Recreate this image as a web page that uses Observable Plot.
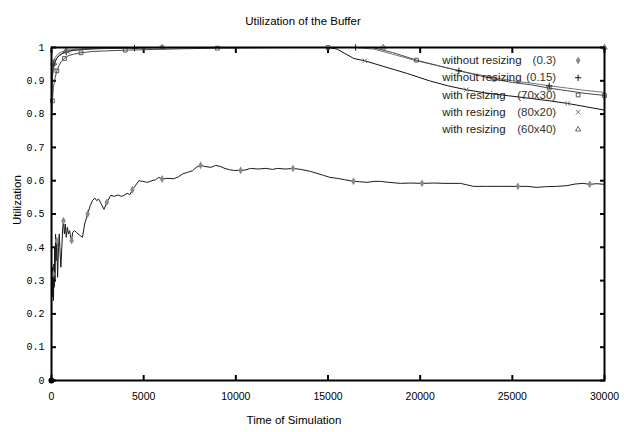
<!DOCTYPE html>
<html><head><meta charset="utf-8">
<script src="https://cdn.jsdelivr.net/npm/d3@7"></script>
<script src="https://cdn.jsdelivr.net/npm/@observablehq/plot@0.6"></script>
<style>body{margin:0;background:#fff;} #chart svg{display:block;}</style>
</head><body><div id="chart"></div>
<script>
const title = "Utilization of the Buffer";
const xLabel = "Time of Simulation";
const yLabel = "Utilization";
const xTicks = [0, 5000, 10000, 15000, 20000, 25000, 30000];
const yTicks = [0, 0.1, 0.2, 0.3, 0.4, 0.5, 0.6, 0.7, 0.8, 0.9, 1];
const legendNames = ["without resizing", "without resizing", "with resizing", "with resizing", "with resizing"];
const legendParams = ["(0.3)", "(0.15)", "(70x30)", "(80x20)", "(60x40)"];

// without resizing (0.3)
const noResize03 = [[0,0],[10,0.30],[30,0.26],[50,0.34],[70,0.25],[90,0.32],[110,0.24],[130,0.35],[150,0.28],[170,0.40],[190,0.30],[220,0.44],[250,0.36],[290,0.42],[330,0.31],[380,0.40],[420,0.44],[470,0.38],[510,0.34],[560,0.40],[610,0.46],[650,0.48],[700,0.44],[750,0.47],[800,0.43],[860,0.46],[920,0.44],[980,0.45],[1040,0.43],[1090,0.42],[1150,0.445],[1250,0.45],[1350,0.445],[1450,0.44],[1560,0.435],[1680,0.43],[1800,0.47],[1960,0.50],[2100,0.525],[2230,0.541],[2350,0.548],[2450,0.54],[2550,0.545],[2680,0.532],[2850,0.514],[3000,0.535],[3220,0.556],[3400,0.553],[3600,0.557],[3800,0.553],[3930,0.556],[4100,0.562],[4250,0.558],[4390,0.573],[4550,0.585],[4740,0.60],[4950,0.598],[5200,0.595],[5450,0.60],[5650,0.603],[5820,0.61],[6000,0.605],[6250,0.607],[6630,0.606],[6900,0.612],[7100,0.62],[7370,0.625],[7650,0.63],[7850,0.64],[8090,0.646],[8300,0.643],[8640,0.64],[8900,0.646],[9150,0.643],[9400,0.637],[9650,0.633],[9880,0.631],[10260,0.631],[10500,0.632],[10800,0.637],[11200,0.635],[11600,0.637],[12000,0.634],[12250,0.637],[12700,0.635],[13100,0.637],[13510,0.634],[14050,0.628],[14400,0.622],[14760,0.616],[15100,0.61],[15500,0.607],[15900,0.603],[16380,0.598],[16700,0.597],[17120,0.595],[17500,0.598],[17840,0.598],[18300,0.595],[18930,0.592],[19500,0.593],[20100,0.592],[20730,0.593],[21300,0.592],[22180,0.592],[22500,0.588],[22900,0.583],[23600,0.583],[24500,0.583],[25300,0.583],[25790,0.583],[26330,0.58],[26800,0.582],[27400,0.583],[27960,0.585],[28400,0.59],[28840,0.592],[29200,0.589],[29580,0.591],[30000,0.589]];

// without resizing (0.15)
const noResize015 = [[10,0.84],[40,0.90],[80,0.93],[130,0.95],[200,0.96],[300,0.97],[420,0.975],[600,0.982],[800,0.986],[1100,0.99],[1500,0.993],[2200,0.995],[3000,0.997],[4500,0.998],[6500,0.999],[9000,1.0],[12000,1.0],[15000,1.0],[16500,1.0],[17500,0.995],[18500,0.98],[19800,0.96],[21000,0.945],[22100,0.93],[23000,0.92],[24000,0.91],[25000,0.90],[26000,0.893],[27000,0.885],[28000,0.878],[29000,0.871],[30000,0.865]];

// with resizing (70x30)
const resize7030 = [[10,0.78],[50,0.84],[100,0.88],[200,0.91],[290,0.93],[400,0.945],[550,0.96],[700,0.967],[900,0.975],[1200,0.98],[1600,0.984],[2200,0.988],[3000,0.99],[4000,0.992],[5500,0.994],[7000,0.996],[9000,0.998],[11000,0.999],[13000,1.0],[15000,1.0],[17400,1.0],[18500,0.985],[19800,0.962],[21000,0.945],[22500,0.925],[24000,0.905],[25000,0.895],[26000,0.888],[27000,0.878],[28000,0.87],[29000,0.862],[30000,0.856]];

// with resizing (80x20)
const resize8020 = [[10,0.86],[40,0.91],[100,0.94],[180,0.955],[280,0.967],[400,0.975],[600,0.983],[850,0.988],[1200,0.992],[1800,0.995],[2500,0.997],[4000,0.999],[6000,1.0],[10000,1.0],[15000,1.0],[15500,0.995],[16400,0.967],[17000,0.96],[18200,0.94],[19300,0.922],[20500,0.90],[21500,0.885],[22500,0.873],[23500,0.864],[24800,0.855],[26000,0.847],[27000,0.84],[28000,0.832],[29000,0.822],[30000,0.812]];

// with resizing (60x40)
const resize6040 = [[10,0.88],[40,0.93],[100,0.955],[200,0.97],[350,0.98],[550,0.987],[800,0.991],[1200,0.994],[2000,0.997],[3500,0.999],[6000,1.0],[9000,1.0],[12000,1.0],[15000,1.0],[18000,1.0],[21000,1.0],[24000,1.0],[27000,1.0],[30000,1.0]];

const series = [
  {data: noResize03, stroke: "#1a1a1a", symbol: "diamond", fill: "#8a8a8a", mstroke: "none", every: 8, off: 5, r: 2.4},
  {data: noResize015, stroke: "#777", symbol: "plus", fill: "none", mstroke: "#111", every: 5, off: 3, r: 2.2},
  {data: resize7030, stroke: "#4a4a4a", symbol: "square2", fill: "none", mstroke: "#555", every: 3, off: 1, r: 2.4},
  {data: resize8020, stroke: "#111", symbol: "times", fill: "none", mstroke: "#777", every: 5, off: 2, r: 2.2},
  {data: resize6040, stroke: "#666", symbol: "triangle2", fill: "none", mstroke: "#666", every: 4, off: 2, r: 2.5}
];

const sans = "'Liberation Sans', Arial, sans-serif";
const mono = "'Liberation Mono', 'DejaVu Sans Mono', monospace";
const X = d => d[0], Y = d => d[1];

const marks = [
  Plot.axisX(xTicks, {anchor: "bottom", tickSize: 0, tickPadding: 12, label: null, tickFormat: d => String(d), fontFamily: sans, fontSize: 10.5}),
  Plot.axisX(xTicks, {anchor: "bottom", tickSize: -5, tickFormat: () => "", label: null, strokeWidth: 2}),
  Plot.axisX(xTicks, {anchor: "top", tickSize: -5, tickFormat: () => "", label: null, strokeWidth: 2}),
  Plot.axisY(yTicks, {anchor: "left", tickSize: 0, tickPadding: 7, label: null, tickFormat: d => d === 0 ? "0" : d === 1 ? "1" : d.toFixed(1), fontFamily: mono, fontSize: 10}),
  Plot.axisY(yTicks, {anchor: "left", tickSize: -5, tickFormat: () => "", label: null, strokeWidth: 2}),
  Plot.axisY(yTicks, {anchor: "right", tickSize: -5, tickFormat: () => "", label: null, strokeWidth: 2})
];
for (const s of series) {
  marks.push(Plot.line(s.data, {x: X, y: Y, stroke: s.stroke, strokeWidth: 1}));
}
for (const s of series) {
  marks.push(Plot.dot(s.data.filter((d, i) => i % s.every === s.off), {x: X, y: Y, symbol: s.symbol, r: s.r, fill: s.fill, stroke: s.mstroke, strokeWidth: 1}));
}
marks.push(Plot.dot([noResize03[0]], {x: X, y: Y, r: 3, fill: "black"}));
marks.push(Plot.frame({stroke: "black", strokeWidth: 2}));
// legend
const legY = (d, i) => 0.961 - i * 0.0518;
marks.push(Plot.text(legendNames, {x: () => 21200, y: legY, text: d => d, textAnchor: "start", fontFamily: sans, fontSize: 11.5, fill: "#222"}));
marks.push(Plot.text(legendParams, {x: () => 27380, y: legY, text: d => d, textAnchor: "end", fontFamily: sans, fontSize: 11.5, fill: "#333"}));
series.forEach((s, i) => {
  marks.push(Plot.dot([legendParams[i]], {x: () => 28570, y: () => legY(null, i), symbol: s.symbol, r: s.r, fill: s.fill, stroke: s.mstroke, strokeWidth: 1}));
});
// titles
marks.push(Plot.text([title], {frameAnchor: "top", dx: -25, dy: -31, text: d => d, fontFamily: sans, fontSize: 11.5}));
marks.push(Plot.text([xLabel], {frameAnchor: "bottom", dx: -34, dy: 43, text: d => d, fontFamily: sans, fontSize: 11.5}));
marks.push(Plot.text([yLabel], {frameAnchor: "left", dx: -34, dy: 11, rotate: -90, text: d => d, fontFamily: sans, fontSize: 11.5}));

const plot = Plot.plot({
  width: 624, height: 432,
  marginLeft: 51, marginRight: 20, marginTop: 47, marginBottom: 52,
  x: {domain: [0, 30000]},
  y: {domain: [0, 1]},
  style: {background: "white", color: "black", fontFamily: sans, fontSize: "11px"},
  marks
});
document.getElementById("chart").appendChild(plot);
</script>
</body></html>
